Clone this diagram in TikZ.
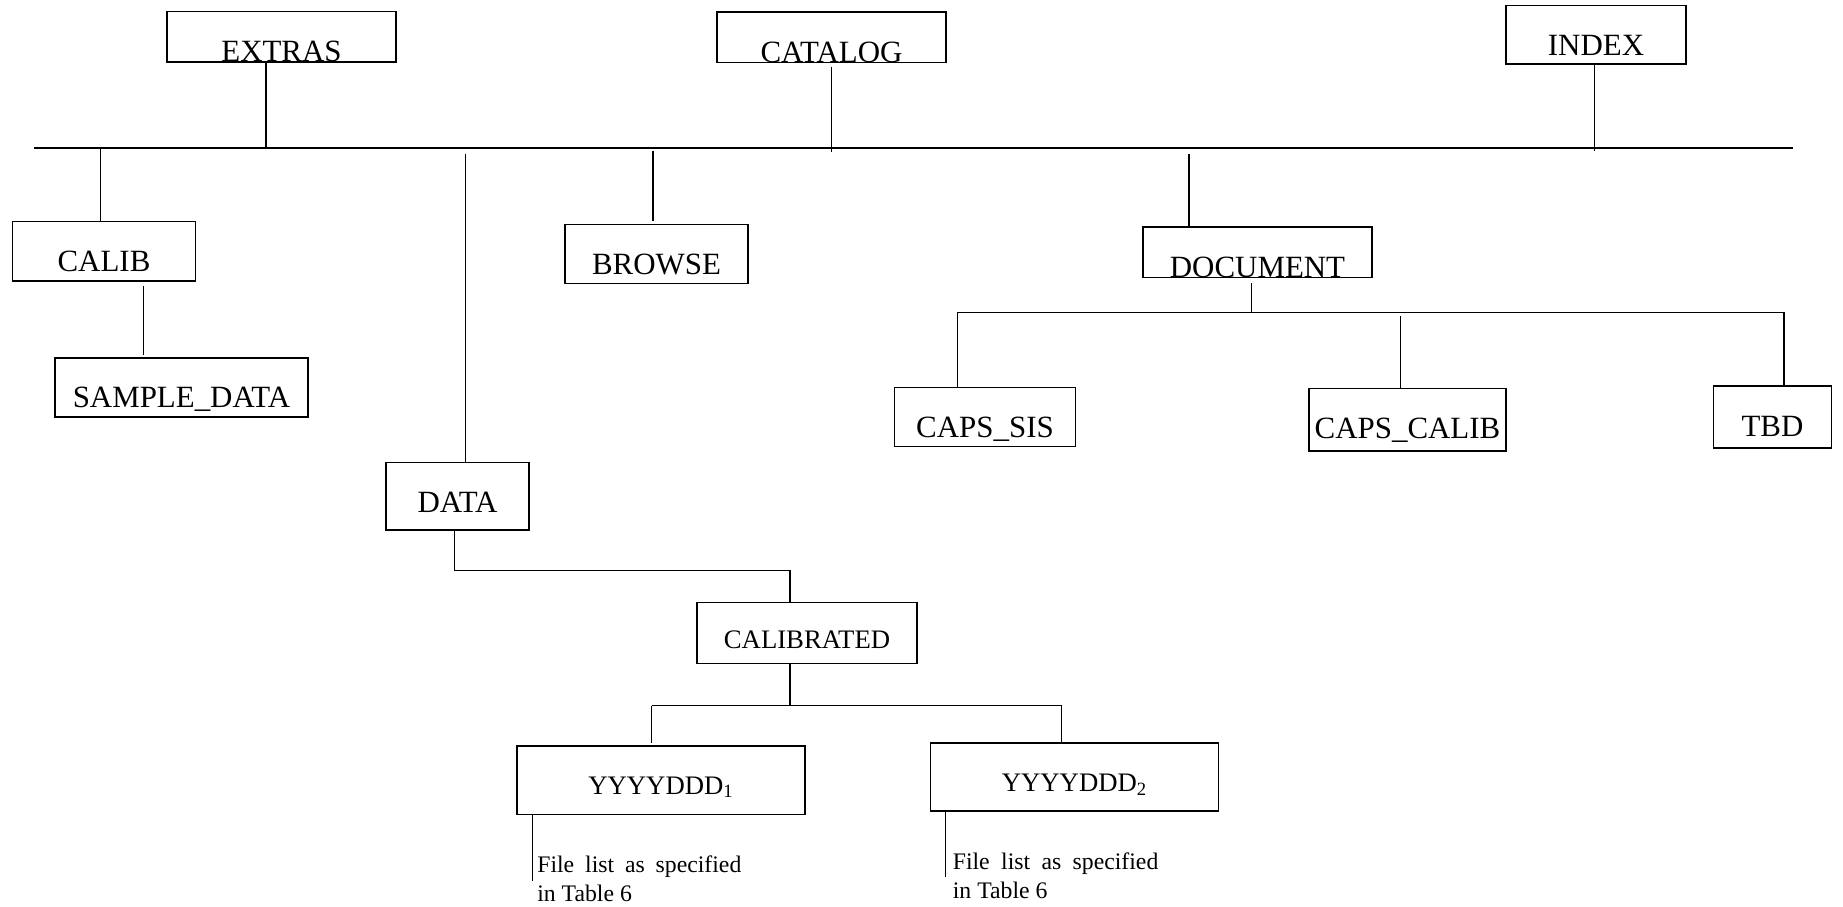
\documentclass[tikz,border=0pt]{standalone}
\usepackage{fontspec}
\setmainfont{Liberation Serif}
\usepackage{tikz}
\usetikzlibrary{positioning,calc}

\begin{document}
\begin{tikzpicture}[
    dir/.style={draw, line width=0.9pt, inner sep=0pt, anchor=base,
                text height=1.01cm, text depth=0.17cm,
                font=\fontsize{17.6}{20}\selectfont},
    subdir/.style={dir, font=\fontsize{15.2}{18}\selectfont},
    link/.style={line width=0.8pt},
    bus/.style={line width=1pt},
    note/.style={inner sep=0pt, anchor=base west, align=left,
                 font=\fontsize{13.5}{16.1}\selectfont}
  ]
  \useasboundingbox (0,0) rectangle (36.86,-18.14);

  % top level
  \node[dir, minimum width=4.59cm, text depth=0pt] (extras)  at (5.63,-1.24)  {EXTRAS};
  \node[dir, minimum width=4.59cm, text depth=0pt] (catalog) at (16.63,-1.254) {CATALOG};
  \node[dir, minimum width=3.61cm, text depth=0.16cm] (index) at (31.92,-1.12) {INDEX};

  \coordinate (busL) at (0.67,-2.96);
  \coordinate (busR) at (35.86,-2.96);
  \draw[bus] (busL) -- (busR);

  \draw[link] ([xshift=-3.1mm]extras.south) -- ([xshift=-3.1mm]extras.south |- busL);
  \draw[link, shorten <=0.7mm, shorten >=-0.9mm] (catalog.south) -- (catalog.south |- busL);
  \draw[link, shorten >=-0.7mm] ([xshift=-0.3mm]index.south) -- ([xshift=-0.3mm]index.south |- busL);

  % second level
  \node[dir, minimum width=3.66cm, text depth=0.18cm] (calib)    at (2.08,-5.44)  {CALIB};
  \node[dir, minimum width=5.06cm, text height=1.0cm, text depth=0.18cm] (sample) at (3.63,-8.16) {SAMPLE\_DATA};
  \node[dir, minimum width=3.67cm] (browse)   at (13.13,-5.5)  {BROWSE};
  \node[dir, minimum width=4.58cm, text depth=0pt] (document) at (25.15,-5.55) {DOCUMENT};
  \node[dir, minimum width=2.85cm, text depth=0.34cm] (data) at (9.15,-10.26) {DATA};

  \draw[link] ([xshift=-0.7mm]calib.north |- busL) -- ([xshift=-0.7mm]calib.north);
  \draw[link, shorten <=0.8mm, shorten >=0.4mm] ([xshift=7.9mm]calib.south) -- ([xshift=7.9mm]calib.south |- sample.north);
  \draw[link, shorten <=1.2mm] ([xshift=1.6mm]data.north |- busL) -- ([xshift=1.6mm]data.north);
  \draw[link, shorten <=0.7mm, shorten >=0.5mm] ([xshift=-0.7mm]browse.north |- busL) -- ([xshift=-0.7mm]browse.north);
  \draw[link, shorten <=1.2mm] ([xshift=-13.7mm]document.north |- busL) -- ([xshift=-13.7mm]document.north);

  % document branch
  \node[dir, minimum width=3.62cm] (capssis)   at (19.7,-8.76)  {CAPS\_SIS};
  \node[dir, minimum width=3.93cm, text depth=0.24cm] (capscalib) at (28.15,-8.78) {CAPS\_CALIB};
  \node[dir, minimum width=2.36cm, text depth=0.23cm] (tbd) at (35.45,-8.73) {TBD};

  \coordinate (docL) at (19.15,-6.25);
  \coordinate (docR) at (35.68,-6.25);
  \draw[link, shorten <=1mm] ([xshift=-1.2mm]document.south) -- ([xshift=-1.2mm]document.south |- docL);
  \draw[bus] (docL) -- (docR);
  \draw[link] (docL) -- (docL |- capssis.north);
  \draw[link, shorten <=0.8mm] ([xshift=-1.4mm]capscalib.north |- docL) -- ([xshift=-1.4mm]capscalib.north);
  \draw[link] (docR) -- (docR |- tbd.north);

  % data branch
  \node[subdir, minimum width=4.40cm, text height=0.91cm, text depth=0.31cm] (calibrated) at (16.14,-12.96) {CALIBRATED};
  \node[subdir, minimum width=5.75cm, text height=0.96cm, text depth=0.41cm] (yd1) at (13.22,-15.88) {YYYYDDD\textsubscript{1}};
  \node[subdir, minimum width=5.76cm, text height=0.97cm, text depth=0.39cm] (yd2) at (21.49,-15.83) {YYYYDDD\textsubscript{2}};

  \draw[link] ([xshift=-0.6mm]data.south) -- ++(0,-0.8) -| ([xshift=-3.4mm]calibrated.north);

  \coordinate (calL) at (13.03,-14.11);
  \coordinate (calR) at (21.23,-14.11);
  \draw[link] ([xshift=-3.4mm]calibrated.south) -- ([xshift=-3.4mm]calibrated.south |- calL);
  \draw[bus] (calL) -- (calR);
  \draw[link, shorten >=0.5mm] (calL) -- (calL |- yd1.north);
  \draw[link] (calR) -- (calR |- yd2.north);

  % file lists
  \node[note] (files1) at (10.74,-18.02) {\makebox[4.08cm][s]{File list as specified}\\in Table 6};
  \node[note] (files2) at (19.05,-17.96) {\makebox[4.11cm][s]{File list as specified}\\in Table 6};

  \draw[link] ([xshift=3.2mm]yd1.south west) -- ++(0,-1.31);
  \draw[link] ([xshift=3.2mm]yd2.south west) -- ++(0,-1.3);
\end{tikzpicture}
\end{document}
